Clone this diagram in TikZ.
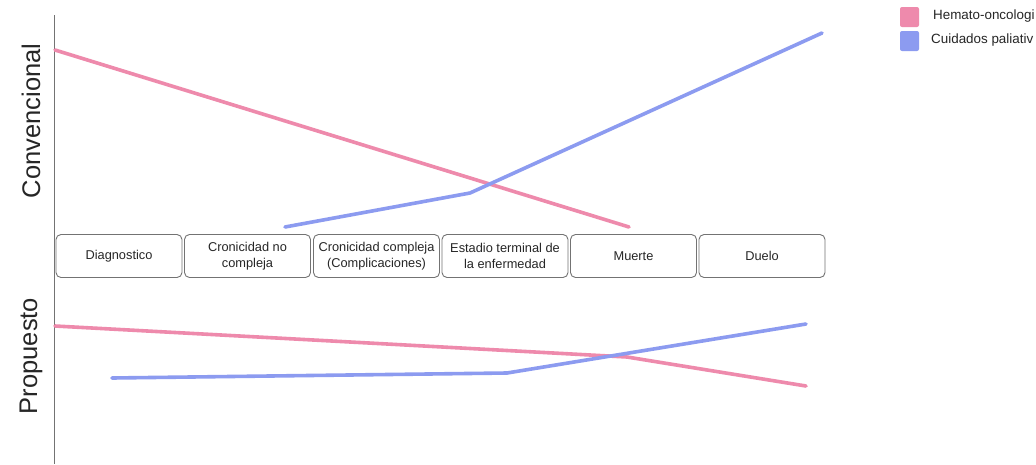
\documentclass[tikz,border=0pt]{standalone}
\usepackage{fontspec}
\setmainfont{Liberation Sans}
\definecolor{hemcol}{RGB}{238,138,172}
\definecolor{palcol}{RGB}{140,155,240}
\begin{document}
\begin{tikzpicture}[x=1pt,y=-1pt,
  stagebox/.style={draw=black!55,line width=0.9pt,rounded corners=5pt,fill=white,minimum width=126pt,minimum height=43pt,inner sep=1pt,align=center,font=\fontsize{12.8}{16}\selectfont,text=black!85},
  hemline/.style={draw=hemcol,line width=3.6pt,line cap=round,line join=round},
  palline/.style={draw=palcol,line width=3.6pt,line cap=round,line join=round},
  sidelabel/.style={rotate=90,font=\fontsize{25.5}{28}\selectfont,text=black!85},
  legtext/.style={anchor=west,inner sep=0pt,font=\fontsize{13.4}{15}\selectfont,text=black!85}]
\useasboundingbox (0,0) rectangle (1036,464);
\fill[white] (0,0) rectangle (1036,464);
% axis
\coordinate (axtop) at (54,15);
\coordinate (axbot) at (54,464);
\draw[black!55,line width=0.9pt] (axtop) -- (axbot);
% side labels
\node[sidelabel] (conv) at (31,121) {Convencional};
\node[sidelabel] (prop) at (31,356) {Propuesto};
% conventional lines
\coordinate (ch1) at (55,50);
\coordinate (ch2) at (629,227);
\draw[hemline] (ch1) -- (ch2);
\coordinate (cp1) at (285,227);
\coordinate (cp2) at (470,193);
\coordinate (cp3) at (822,33);
\draw[palline] (cp1) -- (cp2) -- (cp3);
% stage boxes
\node[stagebox] (b1) at (119,256) {Diagnostico};
\node[stagebox] (b2) at (247.5,256) {Cronicidad no\\compleja};
\node[stagebox] (b3) at (376.5,256) {Cronicidad compleja\\(Complicaciones)};
\node[stagebox] (b4) at (505,256) {Estadio terminal de\\la enfermedad};
\node[stagebox] (b5) at (633.5,256) {Muerte};
\node[stagebox] (b6) at (762,256) {Duelo};
% proposed lines
\coordinate (ph1) at (55,326);
\coordinate (ph2) at (627,357);
\coordinate (ph3) at (806,386);
\draw[hemline] (ph1) -- (ph2) -- (ph3);
\coordinate (pp1) at (112,378);
\coordinate (pp2) at (507,373);
\coordinate (pp3) at (806,324);
\draw[palline] (pp1) -- (pp2) -- (pp3);
% legend
\fill[hemcol,rounded corners=2pt] (900,7) rectangle (919,27);
\fill[palcol,rounded corners=2pt] (900,31) rectangle (919,51);
\node[legtext] (l1) at (933,16) {Hemato-oncologi};
\node[legtext] (l2) at (931,40) {Cuidados paliativ};
\end{tikzpicture}
\end{document}
